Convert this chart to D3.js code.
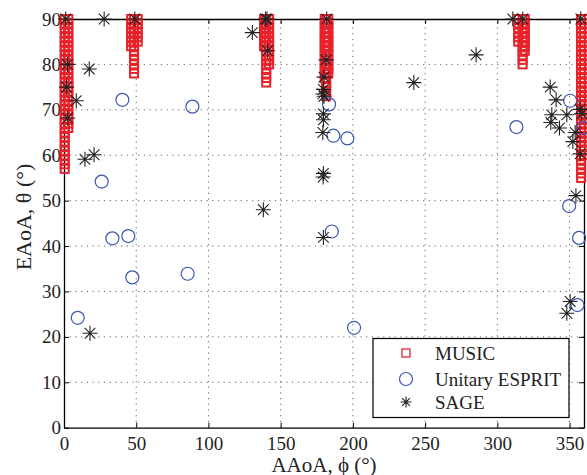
<!DOCTYPE html>
<html>
<head>
<meta charset="utf-8">
<script src="https://cdn.jsdelivr.net/npm/d3@7"></script>
<style>
  body { margin: 0; background: #fff; }
  svg { display: block; font-family: "Liberation Serif", "DejaVu Serif", serif; }
</style>
</head>
<body>
<svg width="587" height="475"></svg>
<script>
// MUSIC estimates: each column is one azimuth with a stack of elevations
var musicColPhi = [0.5, 3, 46.5, 51, 48.5, 138.5, 142, 140, 180.5, 183, 181.5, 314.5, 319, 317.5, 358, 360];
var musicColTheta = [
    [57,58,59,60,61,62,63,64,65,66,67,68,69,70,71,72,73,74,75,76,77,78,79,80,81,82,83,84,85,86,87,88,89,90],
    [66,67,68,69,70,71,72,73,74,75,76,77,78,79,80,81,82,83,84,85,86,87,88,89,90],
    [84,85,86,87,88,89,90],
    [85,86,87,88,89,90],
    [78,79,80,81,82,83,84,85,86,87,88,89,90],
    [84,85,86,87,88,89,90],
    [80,81,82,83,84,85,86,87,88,89,90],
    [76,77,78,79,80,81,82,83,84,85,86,87,88,89,90],
    [77,78,79,80,81,82,83,84,85,86,87,88,89,90],
    [78,79,80,81,82,83,84,85,86,87,88,89,90],
    [73,74,75,76,77,78,79,80,81,82,83,84,85,86,87,88,89,90],
    [85,86,87,88,89,90],
    [83,84,85,86,87,88,89,90],
    [80,81,82,83,84,85,86,87,88,89,90],
    [55,56,57,58,59,60,61,62,63,64,65,66,67,68,69,70,71,72,73,74,75,76,77,78,79,80,81,82,83,84,85,86,87,88,89,90],
    [60,61,62,63,64,65,66,67,68,69,70,71,72,73,74,75,76,77,78,79,80,81,82,83,84,85,86,87,88,89,90]
];

// Unitary ESPRIT estimates [phi, theta]
var espritPoints = [
    [40.4,72.2],[88.9,70.7],[26.1,54.2],[33.5,41.7],[44.5,42.2],[47.3,33.1],[85.6,33.9],
    [9.5,24.2],[183.5,71.2],[186.5,64.3],[196.2,63.7],[185.4,43.2],[200.8,22],
    [313.2,66.2],[350.4,72],[359.2,66],[349.7,48.8],[356.6,41.8],[355.5,27]
];

// SAGE estimates [phi, theta]
var sagePoints = [
    [1.2,90],[27.8,90],[49,90],[2.5,80],[17.5,79],[1.8,75],[8.5,72],[2.6,68.2],[20.8,60.1],[14.5,59.1],[18,20.8],
    [130.4,87],[139.5,90],[140.5,90],[141,83],[138,48],
    [181.9,90],[181.4,81],[180,77.2],[179.6,74.5],[179.2,73.5],[180,73],[179.6,69.1],[179.6,67.8],[179.2,65],
    [179.6,56],[179.4,55.2],[179.6,41.9],
    [242.2,76],[285.3,82.1],[310.7,90],[317.6,90],[357.8,90],
    [336.6,75],[340.7,72.2],[337.7,68.9],[337,67.2],[343,66],[348.1,68.9],[357.3,70.1],[358.5,69.2],
    [353.9,65],[352.3,63],[357.3,60.3],[354.4,51.1],[350.4,27.8],[348.1,25.2]
];

var xTicks = [0, 50, 100, 150, 200, 250, 300, 350];
var yTicks = [0, 10, 20, 30, 40, 50, 60, 70, 80, 90];
var legendNames = ['MUSIC', 'Unitary ESPRIT', 'SAGE'];

var red = '#e8222a', blue = '#3b57b0', black = '#222';

var svg = d3.select('svg');
var plot = {l: 64, r: 584, t: 19, b: 427.7};

var xScale = d3.scaleLinear().domain([0, 360]).range([plot.l, plot.r]);
var yScale = d3.scaleLinear().domain([0, 90]).range([plot.b, plot.t]);

// dotted grid
var grid = svg.append('g').attr('stroke', '#666').attr('stroke-width', 1)
    .attr('stroke-dasharray', '1.2,4.5');
grid.selectAll('.vg').data(xTicks.filter(function(d){ return d > 0; }))
    .enter().append('line')
    .attr('x1', function(d){ return xScale(d); }).attr('x2', function(d){ return xScale(d); })
    .attr('y1', plot.b).attr('y2', plot.t);
grid.selectAll('.hg').data(yTicks.filter(function(d){ return d > 0 && d < 90; }))
    .enter().append('line')
    .attr('y1', function(d){ return yScale(d); }).attr('y2', function(d){ return yScale(d); })
    .attr('x1', plot.l).attr('x2', plot.r);

// axes (ticks point inward on all four sides)
function styleAxis(g) {
    g.select('.domain').attr('stroke', '#000').attr('stroke-width', 1.3);
    g.selectAll('.tick line').attr('stroke', '#000').attr('stroke-width', 1);
    g.selectAll('.tick text').attr('fill', '#222').style('font-size', '19px')
        .style('font-family', '"Liberation Serif", serif');
}
svg.append('g').attr('transform', 'translate(0,' + plot.b + ')')
    .call(d3.axisBottom(xScale).tickValues(xTicks).tickSizeInner(-5).tickSizeOuter(0).tickPadding(9))
    .call(styleAxis);
svg.append('g').attr('transform', 'translate(' + plot.l + ',0)')
    .call(d3.axisLeft(yScale).tickValues(yTicks).tickSizeInner(-5).tickSizeOuter(0).tickPadding(3))
    .call(styleAxis);
svg.append('g').attr('transform', 'translate(0,' + plot.t + ')')
    .call(d3.axisTop(xScale).tickValues(xTicks).tickSizeInner(-5).tickSizeOuter(0).tickFormat(''))
    .call(styleAxis);
svg.append('g').attr('transform', 'translate(' + plot.r + ',0)')
    .call(d3.axisRight(yScale).tickValues(yTicks).tickSizeInner(-5).tickSizeOuter(0).tickFormat(''))
    .call(styleAxis);

// MUSIC squares
var musicPoints = [];
musicColPhi.forEach(function(phi, i) {
    musicColTheta[i].forEach(function(theta) { musicPoints.push([phi, theta]); });
});
svg.append('g').selectAll('rect').data(musicPoints).enter().append('rect')
    .attr('x', function(d){ return xScale(d[0]) - 4; })
    .attr('y', function(d){ return yScale(d[1]) - 4; })
    .attr('width', 8).attr('height', 8)
    .attr('fill', 'none').attr('stroke', red).attr('stroke-width', 2);

// ESPRIT circles
svg.append('g').selectAll('circle').data(espritPoints).enter().append('circle')
    .attr('cx', function(d){ return xScale(d[0]); })
    .attr('cy', function(d){ return yScale(d[1]); })
    .attr('r', 6.5)
    .attr('fill', 'none').attr('stroke', blue).attr('stroke-width', 1.2);

// SAGE asterisks
function starPath(h) {
    var d = h * 0.7071;
    return 'M' + (-h) + ',0L' + h + ',0M0,' + (-h) + 'L0,' + h +
        'M' + (-d) + ',' + (-d) + 'L' + d + ',' + d + 'M' + (-d) + ',' + d + 'L' + d + ',' + (-d);
}
svg.append('g').selectAll('path').data(sagePoints).enter().append('path')
    .attr('transform', function(d){ return 'translate(' + xScale(d[0]) + ',' + yScale(d[1]) + ')'; })
    .attr('d', starPath(7.5))
    .attr('fill', 'none').attr('stroke', black).attr('stroke-width', 1.1);

// axis titles
svg.append('text')
    .attr('transform', 'translate(31,217) rotate(-90)')
    .attr('text-anchor', 'middle')
    .style('font-size', '22px').attr('fill', '#222')
    .text('EAoA, \u03B8 (\u00B0)');
svg.append('text')
    .attr('x', (plot.l + plot.r) / 2).attr('y', 472)
    .attr('text-anchor', 'middle')
    .style('font-size', '21px').attr('fill', '#222')
    .text('AAoA, \u03D5 (\u00B0)');

// legend
var legend = svg.append('g');
legend.append('rect')
    .attr('x', 373).attr('y', 338.5).attr('width', 196).attr('height', 79)
    .attr('fill', '#fff').attr('stroke', '#000').attr('stroke-width', 1.2);
var legendY = [353, 379, 402];
legend.selectAll('text').data(legendNames).enter().append('text')
    .attr('x', 435).attr('y', function(d, i){ return legendY[i] + 7; })
    .style('font-size', '19px').attr('fill', '#222')
    .text(function(d){ return d; });
legend.append('rect').attr('x', 402).attr('y', legendY[0] - 4).attr('width', 8).attr('height', 8)
    .attr('fill', 'none').attr('stroke', red).attr('stroke-width', 1.3);
legend.append('circle').attr('cx', 406).attr('cy', legendY[1]).attr('r', 6.5)
    .attr('fill', 'none').attr('stroke', blue).attr('stroke-width', 1.2);
legend.append('path').attr('transform', 'translate(406,' + legendY[2] + ')')
    .attr('d', starPath(5.5)).attr('fill', 'none').attr('stroke', black).attr('stroke-width', 1.1);
</script>
</body>
</html>
